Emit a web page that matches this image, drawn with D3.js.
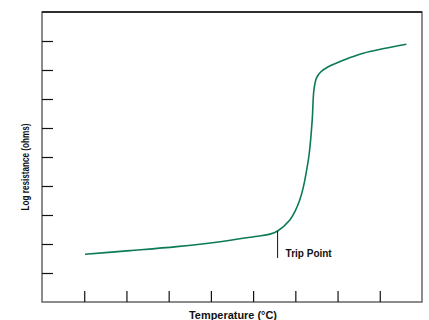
<!DOCTYPE html>
<html>
<head>
<meta charset="utf-8">
<script src="https://cdn.jsdelivr.net/npm/d3@7"></script>
<style>
  body { margin: 0; background: #fff; }
  text { font-family: "Liberation Sans", Arial, sans-serif; font-weight: bold; fill: #111; }
</style>
</head>
<body>
<div class="container"></div>
<script>
const width = 429;
const height = 320;

// curve (temperature units / log resistance units)
const temps = [1.02, 2.08, 3.19, 4.22, 5.05, 5.40, 5.58, 5.87, 6.00, 6.10, 6.18, 6.25, 6.33, 6.40, 6.44, 6.50, 6.60, 6.78, 7.06, 7.30, 7.61, 8.10, 8.63];
const logR  = [1.645, 1.77, 1.91, 2.08, 2.26, 2.34, 2.45, 2.83, 3.15, 3.50, 3.90, 4.40, 5.13, 6.28, 7.31, 7.72, 7.93, 8.11, 8.29, 8.43, 8.58, 8.74, 8.89];
const xTicks = [1, 2, 3, 4, 5, 6, 7, 8];
const yTicks = [1, 2, 3, 4, 5, 6, 7, 8, 9];
const tripTemp = 5.58;

const margin = {left: 42, right: 7, top: 12, bottom: 18};

var svg = d3.select('.container')
    .append('svg')
    .attr('width', width)
    .attr('height', height)

var scaleX = d3.scaleLinear()
    .domain([0, 9])
    .range([margin.left, width - margin.right])

var scaleY = d3.scaleLinear()
    .domain([0, 10])
    .range([height - margin.bottom, margin.top])

// frame
svg.append('rect')
    .attr('x', scaleX(0))
    .attr('y', scaleY(10))
    .attr('width', scaleX(9) - scaleX(0))
    .attr('height', scaleY(0) - scaleY(10))
    .attr('fill', 'none')
    .attr('stroke', '#666')
    .attr('stroke-width', 1.5)

svg.append('line')
    .attr('x1', scaleX(0)).attr('x2', scaleX(9))
    .attr('y1', scaleY(10)).attr('y2', scaleY(10))
    .attr('stroke', '#111')
    .attr('stroke-width', 1.5)

// ticks with no labels, drawn inward
var x_axis = d3.axisTop(scaleX)
    .tickValues(xTicks)
    .tickSize(11)
    .tickFormat('')

svg.append('g')
    .attr('transform', `translate(0, ${scaleY(0)})`)
    .call(x_axis)
    .call(g => g.select('.domain').remove())
    .call(g => g.selectAll('line').attr('stroke', '#111').attr('stroke-width', 1.2))

var y_axis = d3.axisRight(scaleY)
    .tickValues(yTicks)
    .tickSize(11)
    .tickFormat('')

svg.append('g')
    .attr('transform', `translate(${scaleX(0)}, 0)`)
    .call(y_axis)
    .call(g => g.select('.domain').remove())
    .call(g => g.selectAll('line').attr('stroke', '#111').attr('stroke-width', 1.2))

// curve
var line = d3.line()
    .x((d, i) => scaleX(temps[i]))
    .y(d => scaleY(d))
    .curve(d3.curveCatmullRom.alpha(0.5))

svg.append('path')
    .datum(logR)
    .attr('d', line)
    .attr('fill', 'none')
    .attr('stroke', '#0b7a58')
    .attr('stroke-width', 1.6)

// trip point marker
var tripY = scaleY(logR[temps.indexOf(tripTemp)])
svg.append('line')
    .attr('x1', scaleX(tripTemp)).attr('x2', scaleX(tripTemp))
    .attr('y1', tripY).attr('y2', tripY + 27)
    .attr('stroke', '#111')
    .attr('stroke-width', 1)

svg.append('text')
    .attr('x', scaleX(tripTemp) + 8)
    .attr('y', tripY + 26)
    .attr('font-size', 10)
    .text('Trip Point')

// axis titles
svg.append('text')
    .attr('x', 233)
    .attr('y', 319)
    .attr('text-anchor', 'middle')
    .attr('font-size', 10)
    .attr('textLength', 88)
    .attr('lengthAdjust', 'spacingAndGlyphs')
    .text('Temperature (°C)')

svg.append('text')
    .attr('transform', 'rotate(-90)')
    .attr('x', -167)
    .attr('y', 29)
    .attr('text-anchor', 'middle')
    .attr('font-size', 11)
    .attr('textLength', 87)
    .attr('lengthAdjust', 'spacingAndGlyphs')
    .text('Log resistance (ohms)')
</script>
</body>
</html>
